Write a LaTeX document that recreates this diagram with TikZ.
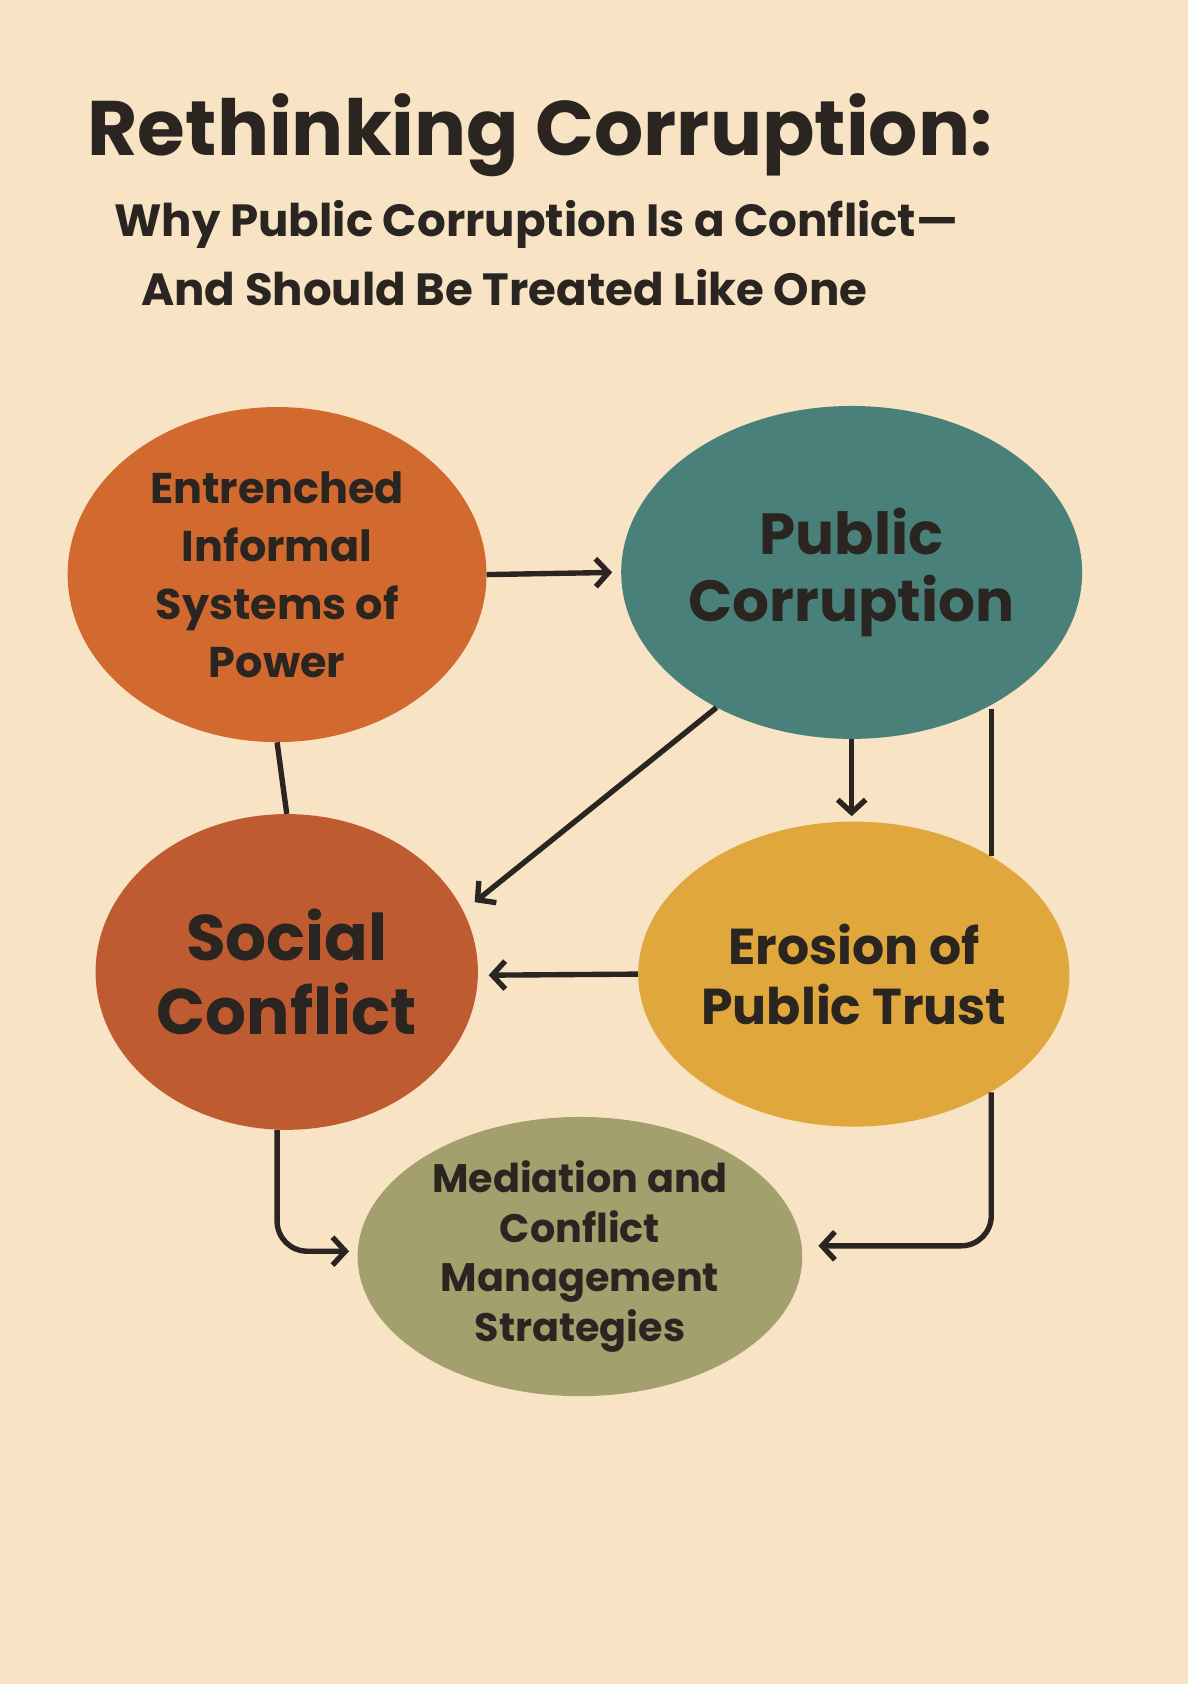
\documentclass[tikz,border=0pt]{standalone}
\usepackage{fontspec}
\setmainfont{Poppins}
\usetikzlibrary{shapes.geometric,arrows.meta}
\definecolor{bg}{HTML}{F8E3C4}
\definecolor{ink}{HTML}{2A2521}
\definecolor{cOr}{HTML}{D2692E}
\definecolor{cTe}{HTML}{4A807A}
\definecolor{cRu}{HTML}{BF5B30}
\definecolor{cYe}{HTML}{E0A83C}
\definecolor{cOl}{HTML}{A3A06E}
\tikzset{
 blob/.style={ellipse,inner sep=0pt,align=center,text=ink,font=\bfseries},
 conn/.style={draw=ink,line width=5pt,rounded corners=28pt},
 arr/.style={conn,-{Straight Barb[length=12pt,width=26pt,line width=5pt]}}
}
\begin{document}
\begin{tikzpicture}[x=1pt,y=-1pt]
\fill[bg] (0,0) rectangle (1106,1568);
\useasboundingbox (0,0) rectangle (1106,1568);
\node[anchor=base west,font=\fontsize{72}{80}\selectfont\bfseries,text=ink] (t1) at (78,145) {Rethinking Corruption:};
\node[anchor=base west,font=\fontsize{42}{50}\selectfont\bfseries,text=ink] (t2) at (103,220) {Why Public Corruption Is a Conflict—};
\node[anchor=base west,font=\fontsize{42}{50}\selectfont\bfseries,text=ink] (t3) at (128,284) {And Should Be Treated Like One};

\node[blob,fill=cOr,minimum width=390pt,minimum height=312pt,font=\fontsize{40}{54}\selectfont\bfseries] (ent) at (258,535) {Entrenched\\Informal\\Systems of\\Power};
\node[blob,fill=cTe,minimum width=416pt,minimum height=310pt,font=\fontsize{54}{62}\selectfont\bfseries] (pub) at (793,533) {Public\\Corruption};
\node[blob,fill=cRu,minimum width=356pt,minimum height=294pt,font=\fontsize{60}{68}\selectfont\bfseries] (soc) at (267,905) {Social\\Conflict};
\node[blob,fill=cYe,minimum width=390pt,minimum height=284pt,font=\fontsize{47}{56}\selectfont\bfseries] (ero) at (795,907) {Erosion of\\Public Trust};
\node[blob,fill=cOl,minimum width=414pt,minimum height=260pt,font=\fontsize{37}{46}\selectfont\bfseries] (med) at (540,1170) {Mediation and\\Conflict\\Management\\Strategies};

\coordinate (dgE) at (442,840);
\coordinate (rT) at (923,660);
\coordinate (rB) at (923,1017);
\draw[arr] (ent.east) -- (570,533);
\draw[conn] (ent.south) -- (soc.north);
\draw[arr] (pub.225) -- (dgE);
\draw[arr] (pub.south) -- (793,760);
\draw[conn] (rT) -- (923,797);
\draw[arr] (rB) |- (762,1160);
\draw[arr] (ero.west) -- (455,908);
\draw[arr] (258,1052) |- (325,1165);
\end{tikzpicture}
\end{document}
